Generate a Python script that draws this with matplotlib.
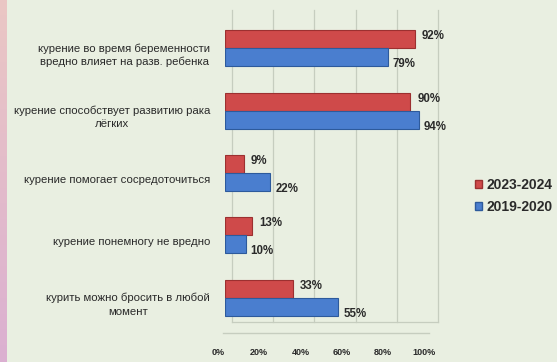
import numpy as np
import matplotlib
matplotlib.use("Agg")
import matplotlib.pyplot as plt
from matplotlib import transforms
from matplotlib.patches import Patch

# Survey statements and shares of agreement (%)
categories = [
    "курение во время беременности\nвредно влияет на разв. ребенка",
    "курение способствует развитию рака\nлёгких",
    "курение помогает сосредоточиться",
    "курение понемногу не вредно",
    "курить можно бросить в любой\nмомент",
]
series_names = ["2023-2024", "2019-2020"]
values_2023 = [92, 90, 9, 13, 33]
values_2019 = [79, 94, 22, 10, 55]
x_ticks = [0, 20, 40, 60, 80, 100]
x_tick_labels = ["0%", "20%", "40%", "60%", "80%", "100%"]

W, H, DPI = 557, 362, 100
BG = "#e9efe1"
RED, RED_EDGE = "#cf4a4a", "#9c3030"
BLUE, BLUE_EDGE = "#4a7ecf", "#2d5a9c"
GRID = "#c6cdbf"
TXT = "#2a2a2a"

fig = plt.figure(figsize=(W / DPI, H / DPI), dpi=DPI)
fig.patch.set_facecolor(BG)

# pink side strip of the slide
strip = fig.add_axes([0, 0, 7 / W, 1])
grad = np.linspace(0, 1, 256)[:, None]
top_c = np.array([0.92, 0.78, 0.77])
bot_c = np.array([0.86, 0.69, 0.82])
img = top_c[None, None, :] * (1 - grad[..., None]) + bot_c[None, None, :] * grad[..., None]
strip.imshow(img, aspect="auto", extent=[0, 1, 0, 1])
strip.axis("off")

ax = fig.add_axes([225 / W, 1 - 329 / H, 206 / W, 312 / H])
ax.patch.set_alpha(0)
ax.set_xlim(0, 100)
ax.set_ylim(len(categories) - 0.5, -0.5)
for s in ax.spines.values():
    s.set_visible(False)

px = lambda dx, dy: transforms.ScaledTranslation(dx / DPI, dy / DPI, fig.dpi_scale_trans)

# back wall gridlines, shifted for the depth effect
back = ax.get_xaxis_transform() + px(7, 7)
for v in x_ticks:
    ax.plot([v, v], [0, 1], color=GRID, lw=0.9, transform=back, zorder=0, clip_on=False)
ax.plot([0, 100], [0, 0], color=GRID, lw=0.9, transform=back, zorder=0, clip_on=False)
# floor front edge
front = ax.get_xaxis_transform() + px(-2, -4)
ax.plot([0, 100], [0, 0], color=GRID, lw=1.0, transform=front, zorder=0, clip_on=False)

y = np.arange(len(categories))
h = 0.29
ax.barh(y - h / 2, values_2023, height=h, color=RED, edgecolor=RED_EDGE, lw=0.8,
        label=series_names[0], zorder=3)
ax.barh(y + h / 2, values_2019, height=h, color=BLUE, edgecolor=BLUE_EDGE, lw=0.8,
        label=series_names[1], zorder=3)

val_font = dict(family="Liberation Sans", weight="bold", fontsize=8.3, color=TXT)
for i, v in enumerate(values_2023):
    ax.annotate(f"{v}%", xy=(v, i - h / 2), xytext=(7, 3), textcoords="offset pixels",
                ha="left", va="center", **val_font)
for i, v in enumerate(values_2019):
    ax.annotate(f"{v}%", xy=(v, i + h / 2), xytext=(5, -7), textcoords="offset pixels",
                ha="left", va="center", **val_font)

# category labels
ax.set_yticks([])
cat_tr = transforms.blended_transform_factory(ax.transAxes, ax.transData) + px(-15, -7)
for i, lab in enumerate(categories):
    ax.text(0, i, lab, transform=cat_tr, ha="right", va="center", multialignment="center",
            family="Liberation Sans", fontsize=8.2, color=TXT, linespacing=1.4)

# x tick labels
ax.set_xticks(x_ticks)
ax.set_xticklabels(x_tick_labels, family="Liberation Sans", weight="bold", fontsize=6.5, color=TXT)
ax.tick_params(axis="x", length=0, pad=14)
for lab in ax.get_xticklabels():
    lab.set_transform(lab.get_transform() + px(-7, 0))

handles = [Patch(facecolor=RED, edgecolor=RED_EDGE), Patch(facecolor=BLUE, edgecolor=BLUE_EDGE)]
fig.legend(handles, series_names, loc="center left", bbox_to_anchor=(462 / W, 1 - 196 / H),
           frameon=False, handlelength=0.55, handleheight=0.55, handletextpad=0.3,
           labelspacing=0.6, prop=dict(family="Liberation Sans", weight="bold", size=10),
           labelcolor=TXT)

fig.savefig("out.png", dpi=DPI, facecolor=BG)
